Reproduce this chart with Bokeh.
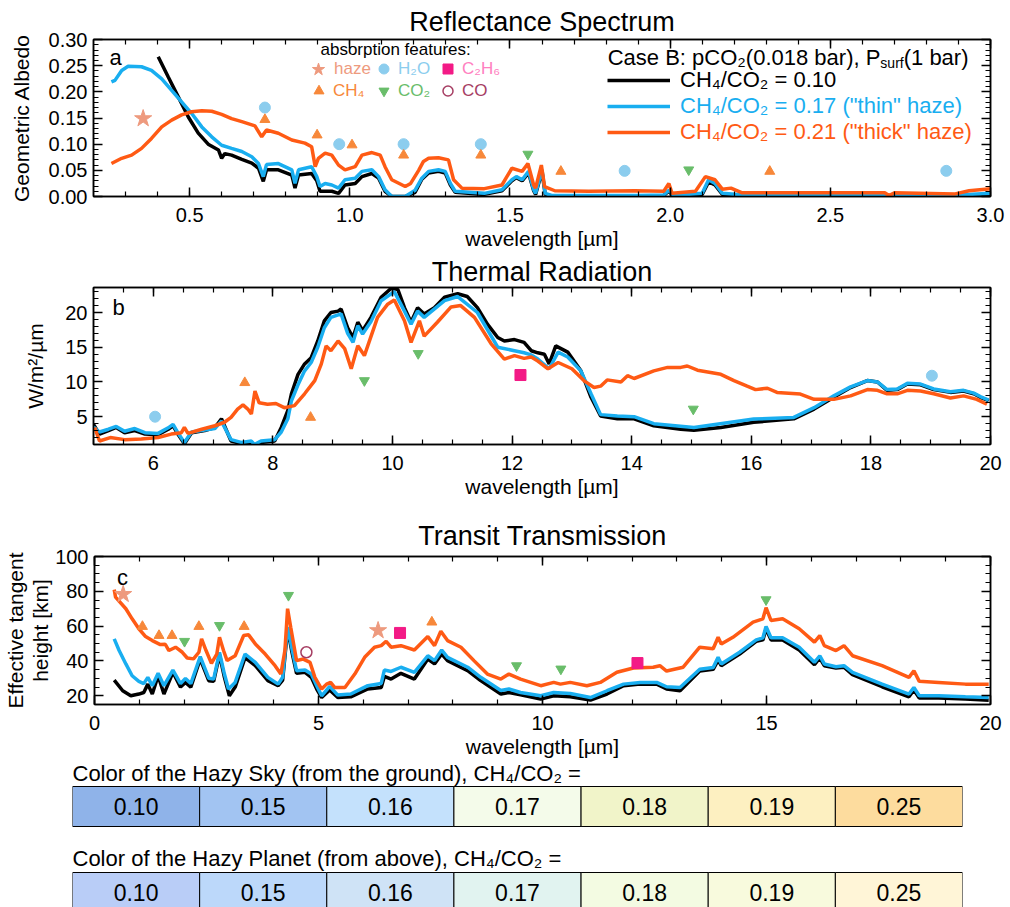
from bokeh.plotting import figure
from bokeh.models import (Range1d, LinearAxis, SingleIntervalTicker, PrintfTickFormatter,
                          CustomJSTickFormatter, Label, Legend, LegendItem)
from bokeh.embed import file_html
from bokeh.resources import INLINE

FONT = "Liberation Sans"
NAN = float("nan")

# ------------------------------------------------------------------ data
# Panel a: geometric albedo vs wavelength [um]
refl_010 = [(0.402, 0.267), (0.433, 0.229), (0.465, 0.19), (0.496, 0.152), (0.527, 0.121), (0.558, 0.10),
            (0.59, 0.089), (0.60, 0.073), (0.61, 0.082), (0.631, 0.079), (0.663, 0.071), (0.694, 0.064),
            (0.715, 0.054), (0.73, 0.029), (0.74, 0.051), (0.777, 0.051), (0.819, 0.041), (0.829, 0.016),
            (0.84, 0.041), (0.881, 0.044), (0.897, 0.030), (0.907, 0.010), (0.944, 0.010), (0.965, 0.006),
            (0.985, 0.022), (1.017, 0.025), (1.038, 0.038), (1.069, 0.044), (1.09, 0.035), (1.11, 0.010),
            (1.131, 0.0), (1.173, 0.0), (1.204, 0.008), (1.225, 0.033), (1.246, 0.045), (1.277, 0.048),
            (1.298, 0.045), (1.314, 0.022), (1.329, 0.008), (1.42, 0.004), (1.475, 0.011), (1.506, 0.030),
            (1.52, 0.036), (1.538, 0.030), (1.558, 0.045), (1.574, 0.011), (1.58, 0.004), (1.60, 0.048),
            (1.61, 0.004), (1.63, 0.001), (1.75, 0.001), (1.90, 0.001), (1.98, 0.002), (1.996, 0.010),
            (2.01, 0.001), (2.10, 0.004), (2.12, 0.028), (2.14, 0.022), (2.163, 0.004), (2.25, 0.001),
            (2.5, 0.001), (2.7, 0.001), (2.9, 0.002), (3.0, 0.004)]
refl_017 = [(0.256, 0.219), (0.267, 0.222), (0.288, 0.241), (0.308, 0.249), (0.35, 0.248), (0.381, 0.241),
            (0.413, 0.225), (0.444, 0.203), (0.475, 0.181), (0.506, 0.159), (0.538, 0.133), (0.569, 0.114),
            (0.60, 0.098), (0.631, 0.092), (0.663, 0.086), (0.694, 0.076), (0.715, 0.063), (0.73, 0.038),
            (0.74, 0.061), (0.777, 0.063), (0.819, 0.051), (0.829, 0.025), (0.84, 0.051), (0.881, 0.057),
            (0.897, 0.038), (0.907, 0.019), (0.923, 0.025), (0.944, 0.022), (0.965, 0.016), (0.985, 0.032),
            (1.017, 0.035), (1.038, 0.048), (1.069, 0.051), (1.09, 0.038), (1.11, 0.013), (1.131, 0.0),
            (1.173, 0.0), (1.204, 0.012), (1.225, 0.035), (1.246, 0.048), (1.277, 0.051), (1.298, 0.048),
            (1.314, 0.025), (1.329, 0.010), (1.42, 0.006), (1.475, 0.013), (1.506, 0.032), (1.52, 0.038),
            (1.538, 0.032), (1.558, 0.048), (1.574, 0.013), (1.58, 0.006), (1.60, 0.051), (1.61, 0.006),
            (1.63, 0.002), (1.75, 0.002), (1.90, 0.002), (1.98, 0.003), (1.996, 0.012), (2.01, 0.002),
            (2.10, 0.006), (2.12, 0.032), (2.14, 0.025), (2.163, 0.006), (2.25, 0.002), (2.5, 0.002),
            (2.7, 0.002), (2.9, 0.003), (3.0, 0.006)]
refl_021 = [(0.256, 0.063), (0.288, 0.073), (0.319, 0.079), (0.35, 0.092), (0.381, 0.111), (0.413, 0.133),
            (0.444, 0.146), (0.475, 0.156), (0.506, 0.162), (0.538, 0.164), (0.569, 0.163), (0.60, 0.157),
            (0.631, 0.149), (0.663, 0.143), (0.704, 0.135), (0.725, 0.114), (0.74, 0.127), (0.777, 0.121),
            (0.819, 0.108), (0.86, 0.102), (0.881, 0.095), (0.892, 0.057), (0.902, 0.073), (0.923, 0.083),
            (0.944, 0.079), (0.965, 0.060), (0.985, 0.051), (1.017, 0.057), (1.038, 0.079), (1.069, 0.084),
            (1.095, 0.079), (1.11, 0.057), (1.131, 0.032), (1.173, 0.019), (1.19, 0.025), (1.215, 0.050),
            (1.23, 0.067), (1.246, 0.073), (1.277, 0.074), (1.308, 0.070), (1.324, 0.032), (1.35, 0.016),
            (1.42, 0.015), (1.475, 0.022), (1.506, 0.054), (1.538, 0.048), (1.556, 0.063), (1.574, 0.022),
            (1.58, 0.016), (1.598, 0.060), (1.608, 0.019), (1.64, 0.011), (1.746, 0.010), (1.89, 0.011),
            (1.98, 0.010), (1.996, 0.025), (2.006, 0.006), (2.079, 0.010), (2.11, 0.038), (2.14, 0.032),
            (2.163, 0.014), (2.19, 0.016), (2.225, 0.007), (2.41, 0.007), (2.67, 0.007), (2.683, 0.002),
            (2.70, 0.007), (2.89, 0.005), (2.933, 0.011), (3.0, 0.015)]
refl_haze = [(0.355, 0.149)]
refl_h2o = [(0.735, 0.17), (0.967, 0.10), (1.168, 0.10), (1.409, 0.10), (1.858, 0.049), (2.862, 0.049)]
refl_ch4 = [(0.735, 0.147), (0.898, 0.1175), (1.007, 0.0985), (1.168, 0.079), (1.409, 0.079),
            (1.659, 0.048), (2.311, 0.048)]
refl_co2 = [(1.556, 0.081), (2.058, 0.051)]

# Panel b: thermal emission [W/m2/um]
therm_010 = [(5.0, 3.9), (5.1, 2.5), (5.25, 3.0), (5.38, 3.45), (5.52, 2.7), (5.69, 3.0), (5.86, 2.5),
             (6.08, 2.4), (6.25, 3.2), (6.33, 3.7), (6.41, 2.5), (6.52, 1.1), (6.64, 2.7), (6.86, 3.0),
             (7.03, 3.45), (7.14, 4.7), (7.19, 3.7), (7.3, 1.5), (7.47, 1.15), (7.64, 1.3), (7.69, 0.8),
             (7.8, 1.3), (8.03, 1.5), (8.14, 3.45), (8.25, 5.9), (8.31, 8.3), (8.42, 11.1), (8.53, 12.6),
             (8.64, 13.5), (8.75, 15.9), (8.86, 18.8), (8.97, 20.0), (9.09, 20.2), (9.14, 20.5), (9.25, 17.8),
             (9.34, 16.4), (9.42, 18.6), (9.5, 17.4), (9.64, 19.3), (9.81, 22.2), (9.98, 23.5), (10.09, 23.3),
             (10.2, 20.7), (10.31, 18.6), (10.42, 20.7), (10.53, 19.8), (10.7, 20.7), (10.87, 22.2),
             (11.09, 22.7), (11.25, 22.3), (11.42, 20.7), (11.59, 18.3), (11.76, 16.4), (11.87, 15.9),
             (12.04, 16.1), (12.2, 15.7), (12.32, 14.5), (12.43, 14.2), (12.54, 14.0), (12.62, 12.6),
             (12.73, 15.2), (12.93, 14.3), (13.15, 11.6), (13.32, 7.8), (13.48, 5.1), (13.76, 4.7),
             (14.04, 4.7), (14.37, 3.7), (14.82, 3.2), (15.04, 3.05), (15.49, 3.45), (16.04, 4.2),
             (16.71, 4.7), (17.05, 6.1), (17.38, 7.8), (17.66, 9.2), (17.94, 10.2), (18.11, 10.0),
             (18.27, 8.8), (18.44, 8.9), (18.61, 9.7), (18.83, 9.6), (19.05, 8.9), (19.33, 8.5),
             (19.55, 8.7), (19.72, 8.3), (19.83, 7.8), (19.97, 7.3)]
therm_017 = [(5.0, 3.5), (5.1, 2.8), (5.25, 3.2), (5.38, 3.6), (5.52, 2.9), (5.69, 3.3), (5.86, 2.7),
             (6.08, 2.6), (6.25, 3.4), (6.33, 3.9), (6.41, 2.7), (6.52, 1.3), (6.64, 2.8), (6.86, 3.1),
             (7.03, 3.3), (7.14, 4.4), (7.19, 3.5), (7.3, 1.7), (7.47, 1.3), (7.64, 1.5), (7.69, 1.0),
             (7.8, 1.5), (8.03, 1.7), (8.14, 2.8), (8.25, 4.7), (8.31, 7.3), (8.42, 9.6), (8.53, 11.6),
             (8.64, 12.8), (8.75, 15.0), (8.86, 17.8), (8.97, 19.3), (9.14, 19.8), (9.25, 17.0),
             (9.34, 15.7), (9.42, 18.1), (9.5, 16.9), (9.64, 18.7), (9.81, 21.7), (10.03, 23.0),
             (10.2, 20.2), (10.31, 18.3), (10.42, 20.2), (10.53, 19.3), (10.87, 21.7), (11.09, 22.3),
             (11.42, 20.0), (11.76, 15.0), (12.04, 14.5), (12.2, 14.2), (12.32, 13.9), (12.43, 13.3),
             (12.62, 11.9), (12.77, 14.3), (12.93, 13.6), (13.15, 11.6), (13.32, 8.3), (13.48, 5.3),
             (13.76, 5.1), (14.04, 5.0), (14.37, 4.0), (15.04, 3.45), (16.04, 4.66), (16.71, 4.9),
             (17.05, 6.3), (17.38, 8.0), (17.66, 9.3), (17.94, 10.2), (18.11, 10.0), (18.27, 8.9),
             (18.44, 9.0), (18.61, 9.8), (18.83, 9.7), (19.05, 9.0), (19.33, 8.6), (19.55, 8.8),
             (19.72, 8.4), (19.83, 7.9), (19.97, 7.4)]
therm_021 = [(5.02, 3.45), (5.1, 1.5), (5.28, 2.0), (5.52, 1.7), (5.8, 1.8), (6.08, 2.0), (6.3, 2.5),
             (6.47, 2.7), (6.52, 3.45), (6.58, 2.6), (6.81, 3.2), (7.03, 3.7), (7.19, 4.2), (7.3, 4.9),
             (7.41, 6.1), (7.5, 6.7), (7.58, 6.1), (7.64, 5.4), (7.7, 8.7), (7.77, 7.0), (7.91, 6.8),
             (8.05, 6.9), (8.19, 6.3), (8.36, 6.6), (8.53, 8.3), (8.7, 10.2), (8.81, 12.6), (8.89, 15.2),
             (8.97, 14.5), (9.09, 15.9), (9.2, 14.8), (9.31, 11.9), (9.42, 15.2), (9.53, 13.8), (9.75, 19.3),
             (9.92, 21.2), (10.03, 21.8), (10.2, 18.8), (10.31, 15.7), (10.45, 18.8), (10.53, 16.6),
             (10.75, 18.6), (10.98, 20.8), (11.14, 21.0), (11.37, 19.3), (11.65, 15.5), (11.87, 13.3),
             (12.04, 13.8), (12.2, 13.4), (12.32, 13.6), (12.43, 13.0), (12.6, 11.9), (12.77, 12.8),
             (13.0, 11.9), (13.2, 10.2), (13.37, 9.2), (13.48, 9.4), (13.59, 10.3), (13.82, 10.0),
             (13.93, 10.9), (14.04, 10.5), (14.37, 11.6), (14.6, 12.1), (14.82, 12.1), (14.93, 12.3),
             (15.1, 11.7), (15.49, 11.1), (15.71, 10.2), (15.93, 9.4), (16.07, 8.9), (16.27, 9.1),
             (16.43, 8.5), (16.82, 8.26), (17.05, 7.5), (17.38, 7.5), (17.66, 8.0), (17.94, 8.9),
             (18.11, 8.8), (18.27, 8.3), (18.44, 8.3), (18.61, 8.8), (18.83, 8.7), (19.05, 8.3),
             (19.33, 7.7), (19.55, 8.0), (19.77, 7.5), (19.94, 6.8)]
therm_h2o = [(6.03, 5.0), (19.02, 10.9)]
therm_ch4 = [(7.53, 9.9), (8.63, 4.9)]
therm_co2 = [(9.53, 10.2), (10.43, 14.1), (15.03, 6.1)]
therm_c2h6 = [(12.14, 11.0)]

# Panel c: effective tangent height [km]
trans_010 = [(0.44, 29), (0.63, 22.9), (0.81, 20), (0.99, 21), (1.1, 21.9), (1.19, 26.7), (1.29, 21),
             (1.42, 31.5), (1.55, 21), (1.75, 33.5), (1.92, 25), (2.03, 27.7), (2.15, 25), (2.36, 41.1),
             (2.55, 28.7), (2.66, 28.3), (2.79, 43.6), (2.9, 30.6), (3.01, 20), (3.14, 25), (3.36, 41.9),
             (3.59, 37.3), (3.87, 28.7), (4.1, 25.8), (4.2, 29), (4.31, 58.5), (4.4, 46), (4.51, 32.9),
             (4.7, 33.5), (4.84, 30.6), (4.96, 23.9), (5.07, 19), (5.25, 23.3), (5.43, 19), (5.72, 19.4),
             (6.1, 23.9), (6.4, 24.8), (6.47, 31.1), (6.62, 29.6), (6.84, 32.9), (7.14, 29.6), (7.44, 41.1),
             (7.59, 38.3), (7.75, 44), (7.88, 40.2), (8.33, 34.4), (8.62, 28.7), (9.07, 21), (9.25, 21.9),
             (9.51, 20.6), (9.96, 18.1), (10.25, 20), (10.62, 19.4), (11.07, 17.5), (11.44, 21),
             (11.81, 25.8), (12.18, 26.7), (12.55, 26.7), (12.77, 23.9), (13.07, 22.9), (13.51, 34.2),
             (13.81, 35.2), (13.92, 40.4), (13.99, 37.3), (14.4, 44), (14.77, 51.3), (14.92, 52.1),
             (14.99, 58.5), (15.1, 52.1), (15.36, 52.1), (15.73, 46.3), (16.07, 37.9), (16.19, 41.7),
             (16.29, 37.3), (16.55, 36), (16.73, 36.4), (16.92, 32.1), (17.58, 25.2), (18.18, 19.4),
             (18.29, 23.3), (18.41, 18.7), (18.84, 18.7), (19.44, 18.1), (19.96, 17.5)]
trans_017 = [(0.44, 52.7), (0.55, 46), (0.7, 38.3), (0.84, 31.5), (0.99, 28.3), (1.1, 27), (1.19, 30.6),
             (1.29, 25.8), (1.42, 32.9), (1.55, 25.8), (1.75, 34.8), (1.92, 27), (2.03, 30), (2.15, 27),
             (2.36, 42.5), (2.55, 30.1), (2.66, 29.6), (2.79, 45), (2.9, 32.5), (2.99, 23.9), (3.14, 27.7),
             (3.36, 44), (3.59, 39.2), (3.87, 30.6), (4.1, 26.7), (4.2, 30.6), (4.31, 59.4), (4.4, 47.9),
             (4.51, 34.4), (4.7, 34.8), (4.84, 32.5), (4.96, 25.8), (5.07, 20), (5.25, 25.4), (5.43, 20.4),
             (5.72, 21), (6.1, 25.8), (6.4, 27.1), (6.47, 34.8), (6.62, 34), (6.84, 36.4), (7.14, 33.5),
             (7.44, 43), (7.59, 40.2), (7.75, 46.3), (7.88, 42.1), (8.33, 36.4), (8.62, 30.6), (9.07, 23),
             (9.25, 23.9), (9.51, 21.9), (9.96, 20), (10.25, 21.9), (10.62, 21.3), (11.07, 19),
             (11.44, 22.9), (11.81, 26.7), (12.18, 27.7), (12.55, 27.7), (12.77, 25.2), (13.07, 24.8),
             (13.51, 35.2), (13.81, 36.2), (13.92, 42.1), (13.99, 38.3), (14.4, 45), (14.77, 52.1),
             (14.92, 53.3), (14.99, 59.8), (15.1, 53.3), (15.36, 53.3), (15.73, 47.9), (16.07, 39.2),
             (16.19, 43), (16.29, 38.3), (16.55, 36.7), (16.73, 37.3), (16.92, 33.5), (17.58, 26.7),
             (18.18, 21), (18.29, 24.8), (18.41, 20), (18.84, 20), (19.44, 19.4), (19.96, 19)]
trans_021 = [(0.44, 81), (0.47, 76.7), (0.7, 70), (0.84, 64.2), (0.99, 58.5), (1.14, 54), (1.29, 51.7),
             (1.47, 49.4), (1.58, 49.6), (1.66, 46), (1.81, 47.9), (1.96, 45), (2.07, 41.7), (2.21, 41.2),
             (2.33, 45), (2.39, 52.7), (2.49, 46), (2.61, 38.6), (2.73, 44), (2.79, 53.6), (2.88, 46),
             (2.96, 40.2), (3.14, 43), (3.33, 54.6), (3.44, 55), (3.59, 49.8), (3.81, 44), (4.03, 37.3),
             (4.16, 32.5), (4.25, 46), (4.31, 70), (4.38, 59.4), (4.51, 40.2), (4.66, 41.1), (4.81, 39.2),
             (4.92, 30.6), (5.07, 23.9), (5.18, 26.7), (5.27, 27.7), (5.36, 24.8), (5.59, 24.8),
             (5.81, 32.5), (6.03, 42.1), (6.25, 47.9), (6.4, 48.8), (6.51, 51.3), (6.62, 47.9),
             (6.84, 48.8), (7.14, 46.3), (7.44, 54), (7.59, 48.8), (7.73, 57.1), (7.88, 51.7), (8.18, 47.9),
             (8.47, 40.2), (8.77, 32.5), (9.07, 29.6), (9.25, 32.5), (9.51, 29.6), (9.96, 25.8),
             (10.25, 27.7), (10.4, 26.7), (10.62, 27.7), (10.99, 25.8), (11.29, 27.7), (11.66, 33.5),
             (12.03, 36), (12.47, 36.4), (12.62, 37.3), (12.77, 34.2), (13.14, 36.4), (13.51, 47.9),
             (13.81, 47), (13.92, 53.6), (13.99, 49.7), (14.25, 53.6), (14.7, 62.3), (14.92, 64.2),
             (14.99, 70.6), (15.1, 63.3), (15.36, 64.2), (15.73, 58.5), (16.07, 50.8), (16.19, 54.6),
             (16.29, 48.8), (16.55, 46), (16.73, 48.8), (16.92, 43), (17.58, 37.3), (18.18, 30.6),
             (18.29, 34.4), (18.41, 28.3), (18.84, 27.7), (19.44, 26.7), (19.96, 26.7)]
trans_haze = [(0.64, 78.3), (6.33, 57.5)]
trans_ch4 = [(1.07, 59.8), (1.44, 54.6), (1.73, 54.6), (2.33, 59.8), (3.34, 59.8), (7.53, 62.3)]
trans_co2 = [(2.01, 51.3), (2.79, 60.4), (4.33, 77.7), (9.42, 37.3), (10.41, 35.4), (14.99, 75.2)]
trans_co = [(4.73, 45.0)]
trans_c2h6 = [(6.82, 56.1), (12.12, 38.8)]

# Colour strips
ratio_labels = ["0.10", "0.15", "0.16", "0.17", "0.18", "0.19", "0.25"]
sky_colors = ["#8fb3e9", "#a2c4f2", "#c4e1fc", "#f4fbea", "#f1f4c9", "#fdf0c1", "#fddc9e"]
planet_colors = ["#b9cdf7", "#bcd8fa", "#cfe3f6", "#e1f3f0", "#f3fbe2", "#f8fadd", "#fff5d7"]

# ------------------------------------------------------------------ styles
BLACK, BLUE, ORANGE = "#000000", "#19aef0", "#ff5a14"
C_HAZE, C_H2O, C_CH4, C_CO2, C_C2H6, C_CO = "#ee9a7e", "#8ccdee", "#f7883a", "#69bd6a", "#f31a86", "#a63e63"
T_C2H6 = "#ff80c0"
W = 1010
FL, FR = 93, 20
LW = 3.5

MK = {
    "haze": dict(marker="star", size=18, fill_color=C_HAZE, line_color=C_HAZE),
    "h2o": dict(marker="circle", size=11, fill_color=C_H2O, line_color=C_H2O),
    "ch4": dict(marker="triangle", size=10, fill_color=C_CH4, line_color=C_CH4),
    "co2": dict(marker="inverted_triangle", size=10, fill_color=C_CO2, line_color=C_CO2),
    "c2h6": dict(marker="square", size=11, fill_color=C_C2H6, line_color=C_C2H6),
    "co": dict(marker="circle", size=11, fill_color=None, line_color=C_CO, line_width=1.5),
}


def xs(pts):
    return [a for a, b in pts]


def ys(pts):
    return [b for a, b in pts]


def style_axis(ax, show):
    ax.axis_line_width = 1.5
    ax.major_tick_in = 9
    ax.major_tick_out = 0
    ax.minor_tick_in = 5
    ax.minor_tick_out = 0
    ax.major_tick_line_width = 1.5
    ax.minor_tick_line_width = 1.2
    if show:
        ax.major_label_text_font = FONT
        ax.major_label_text_font_size = "20px"
        ax.major_label_text_color = "black"
        ax.axis_label_text_font = FONT
        ax.axis_label_text_font_size = "21px"
        ax.axis_label_text_font_style = "normal"
        ax.axis_label_text_color = "black"
    else:
        ax.formatter = CustomJSTickFormatter(code="return ''")
        ax.major_label_text_font_size = "1px"
        ax.major_label_standoff = 0


def make_panel(h, title, xr, yr, top, bottom, xint, xminor, yint, yminor, xfmt=None, yfmt=None,
               xlabel="", ylabel="", ylab_standoff=8, title_standoff=4, ylab_lh=1.2):
    p = figure(width=W, height=h, x_range=Range1d(*xr), y_range=Range1d(*yr), title=title,
               output_backend="svg", toolbar_location=None,
               x_axis_location=None, y_axis_location=None,
               min_border_left=FL, min_border_right=FR, min_border_top=top, min_border_bottom=bottom)
    p.title.align = "center"
    p.title.text_font = FONT
    p.title.text_font_size = "27px"
    p.title.text_font_style = "normal"
    p.title.text_color = "black"
    p.title.standoff = title_standoff
    p.grid.visible = False
    p.outline_line_color = "black"
    p.outline_line_width = 1.5
    for loc in ("below", "above"):
        ax = LinearAxis(ticker=SingleIntervalTicker(interval=xint, num_minor_ticks=xminor))
        style_axis(ax, loc == "below")
        if loc == "below":
            if xfmt:
                ax.formatter = PrintfTickFormatter(format=xfmt)
            ax.major_label_standoff = 11
            ax.axis_label = xlabel
            ax.axis_label_standoff = 2
        p.add_layout(ax, loc)
    for loc in ("left", "right"):
        ax = LinearAxis(ticker=SingleIntervalTicker(interval=yint, num_minor_ticks=yminor))
        style_axis(ax, loc == "left")
        if loc == "left":
            if yfmt:
                ax.formatter = PrintfTickFormatter(format=yfmt)
            ax.major_label_standoff = 6
            ax.axis_label = ylabel
            ax.axis_label_standoff = ylab_standoff
            ax.axis_label_text_line_height = ylab_lh
        p.add_layout(ax, loc)
    return p


def lab(p, x, y, text, size, color="black", align="left", baseline="middle"):
    p.add_layout(Label(x=x, y=y, x_units="screen", y_units="screen", text=text,
                       text_font=FONT, text_font_size=f"{size}px", text_color=color,
                       text_align=align, text_baseline=baseline))


def legend1(p, r, text, color, loc, size, gw, standoff, gh=16):
    lg = Legend(items=[LegendItem(label=text, renderers=[r])], location=loc,
                label_text_color=color, label_text_font=FONT, label_text_font_size=f"{size}px",
                glyph_width=gw, glyph_height=gh, label_standoff=standoff, padding=0, margin=0,
                spacing=0, border_line_color=None, background_fill_alpha=0)
    p.add_layout(lg)


HELV = {"(": 333, ")": 333, "1": 556, " ": 278, "b": 556, "a": 556, "r": 333, "s": 500, "u": 556, "f": 278}


def tw(s, size):
    return sum(HELV.get(c, 556) for c in s) * size / 1000.0


# ------------------------------------------------------------------ panel a
pa = make_panel(253, "Reflectance Spectrum", (0.2, 3.0), (0.0, 0.3001), 39, 57, 0.5, 5, 0.05, 5,
                xfmt="%.1f", yfmt="%.2f", xlabel="wavelength [\u00b5m]", ylabel="Geometric Albedo",
                ylab_standoff=13, title_standoff=5)
FB_A = 196
ra0 = pa.line(xs(refl_010), ys(refl_010), line_color=BLACK, line_width=LW)
ra1 = pa.line(xs(refl_017), ys(refl_017), line_color=BLUE, line_width=LW)
ra2 = pa.line(xs(refl_021), ys(refl_021), line_color=ORANGE, line_width=LW)
mh = pa.scatter(xs(refl_haze), ys(refl_haze), **MK["haze"])
mw = pa.scatter(xs(refl_h2o), ys(refl_h2o), **MK["h2o"])
mc = pa.scatter(xs(refl_ch4), ys(refl_ch4), **MK["ch4"])
md = pa.scatter(xs(refl_co2), ys(refl_co2), **MK["co2"])
me = pa.scatter([NAN], [NAN], **MK["c2h6"])   # legend-only swatches (no C2H6 / CO feature in panel a)
mo = pa.scatter([NAN], [NAN], **MK["co"])

lab(pa, 22, FB_A - 57, "a", 22, align="center")
lab(pa, 227, FB_A - 49, "absorption features:", 17)
# feature legend: marker centres at x = 318, 383, 447 (page px), rows at y = 69, 91
legend1(pa, mh, "haze", C_HAZE, (318 - 16 - FL, FB_A - 85), 17, 32, 0, gh=32)
legend1(pa, mw, "H\u2082O", C_H2O, (383 - 12 - FL, FB_A - 81), 17, 25, 2, gh=25)
legend1(pa, me, "C\u2082H\u2086", T_C2H6, (447 - 12 - FL, FB_A - 81), 17, 25, 2, gh=25)
legend1(pa, mc, "CH\u2084", C_CH4, (318 - 12 - FL, FB_A - 103), 17, 25, 2, gh=25)
legend1(pa, md, "CO\u2082", C_CO2, (383 - 12 - FL, FB_A - 103), 17, 25, 2, gh=25)
legend1(pa, mo, "CO", C_CO, (447 - 12 - FL, FB_A - 103), 17, 25, 2, gh=25)
# header with a subscripted "surf"
x_end = 968 - FL
w1 = tw("(1 bar)", 22)
w2 = tw("surf", 14)
base = FB_A - 57
pa.add_layout(Label(x=x_end, y=base, x_units="screen", y_units="screen", text="(1 bar)",
                    text_font=FONT, text_font_size="22px", text_color="black",
                    text_align="right", text_baseline="alphabetic"))
pa.add_layout(Label(x=x_end - w1, y=base - 5, x_units="screen", y_units="screen", text="surf",
                    text_font=FONT, text_font_size="14px", text_color="black",
                    text_align="right", text_baseline="alphabetic"))
pa.add_layout(Label(x=x_end - w1 - w2, y=base, x_units="screen", y_units="screen",
                    text="Case B: pCO\u2082(0.018 bar), P", text_color="black",
                    text_font=FONT, text_font_size="22px", text_align="right", text_baseline="alphabetic"))
legend1(pa, ra0, "CH\u2084/CO\u2082 = 0.10", BLACK, (514, FB_A - 93), 22, 63, 10)
legend1(pa, ra1, "CH\u2084/CO\u2082 = 0.17 (\"thin\" haze)", BLUE, (514, FB_A - 119), 22, 63, 10)
legend1(pa, ra2, "CH\u2084/CO\u2082 = 0.21 (\"thick\" haze)", ORANGE, (514, FB_A - 145), 22, 63, 10)

# ------------------------------------------------------------------ panel b
pb = make_panel(252, "Thermal Radiation", (5.0, 20.0), (1.0, 23.6), 34, 61, 2, 4, 5, 5,
                xlabel="wavelength [\u00b5m]", ylabel="W/m\u00b2/\u00b5m", ylab_standoff=15, title_standoff=1)
pb.line(xs(therm_010), ys(therm_010), line_color=BLACK, line_width=LW)
pb.line(xs(therm_017), ys(therm_017), line_color=BLUE, line_width=LW)
pb.line(xs(therm_021), ys(therm_021), line_color=ORANGE, line_width=LW)
pb.scatter(xs(therm_h2o), ys(therm_h2o), **MK["h2o"])
pb.scatter(xs(therm_ch4), ys(therm_ch4), **MK["ch4"])
pb.scatter(xs(therm_co2), ys(therm_co2), **MK["co2"])
pb.scatter(xs(therm_c2h6), ys(therm_c2h6), **MK["c2h6"])
lab(pb, 25, 137, "b", 22, align="center")

# ------------------------------------------------------------------ panel c
pc = make_panel(256, "Transit Transmission", (0.0, 20.0), (15.0, 100.0), 51, 57, 5, 5, 20, 4,
                xlabel="wavelength [\u00b5m]", ylabel="Effective tangent\nheight [km]", ylab_standoff=0,
                ylab_lh=1.1, title_standoff=12)
pc.line(xs(trans_010), ys(trans_010), line_color=BLACK, line_width=LW)
pc.line(xs(trans_017), ys(trans_017), line_color=BLUE, line_width=LW)
pc.line(xs(trans_021), ys(trans_021), line_color=ORANGE, line_width=LW)
pc.scatter(xs(trans_haze), ys(trans_haze), **MK["haze"])
pc.scatter(xs(trans_ch4), ys(trans_ch4), **MK["ch4"])
pc.scatter(xs(trans_co2), ys(trans_co2), **MK["co2"])
pc.scatter(xs(trans_co), ys(trans_co), **MK["co"])
pc.scatter(xs(trans_c2h6), ys(trans_c2h6), **MK["c2h6"])
lab(pc, 28, 127, "c", 22, align="center")

# ------------------------------------------------------------------ colour strips
ROW_PX = 86.0
D_H = 146
ROW0 = 45.0
pd_ = figure(width=W, height=D_H, x_range=Range1d(0, 7),
             y_range=Range1d((D_H - ROW0) / ROW_PX, -ROW0 / ROW_PX),
             output_backend="svg", toolbar_location=None, x_axis_location=None, y_axis_location=None,
             min_border_left=72, min_border_right=48, min_border_top=0, min_border_bottom=0)
pd_.grid.visible = False
pd_.outline_line_color = None
half = 20 / ROW_PX
idx = list(range(len(ratio_labels)))
for row, cols in ((0, sky_colors), (1, planet_colors)):
    pd_.quad(left=idx, right=[i + 1 for i in idx], top=[row - half] * 7, bottom=[row + half] * 7,
             fill_color=cols, line_color="black", line_width=1)
    pd_.text(x=[i + 0.5 for i in idx], y=[row] * 7, text=ratio_labels, text_align="center",
             text_baseline="middle", text_font_size="23px", text_font={"value": FONT}, text_color="black")
pd_.add_layout(Label(x=0, y=-33 / ROW_PX, text="Color of the Hazy Sky (from the ground), CH\u2084/CO\u2082 =",
                     text_font=FONT, text_font_size="22px", text_color="black",
                     text_baseline="middle", text_align="left"))
pd_.add_layout(Label(x=0, y=1 - 34 / ROW_PX, text="Color of the Hazy Planet (from above), CH\u2084/CO\u2082 =",
                     text_font=FONT, text_font_size="22px", text_color="black",
                     text_baseline="middle", text_align="left"))

open("out.html", "w").write(file_html([pa, pb, pc, pd_], INLINE))
